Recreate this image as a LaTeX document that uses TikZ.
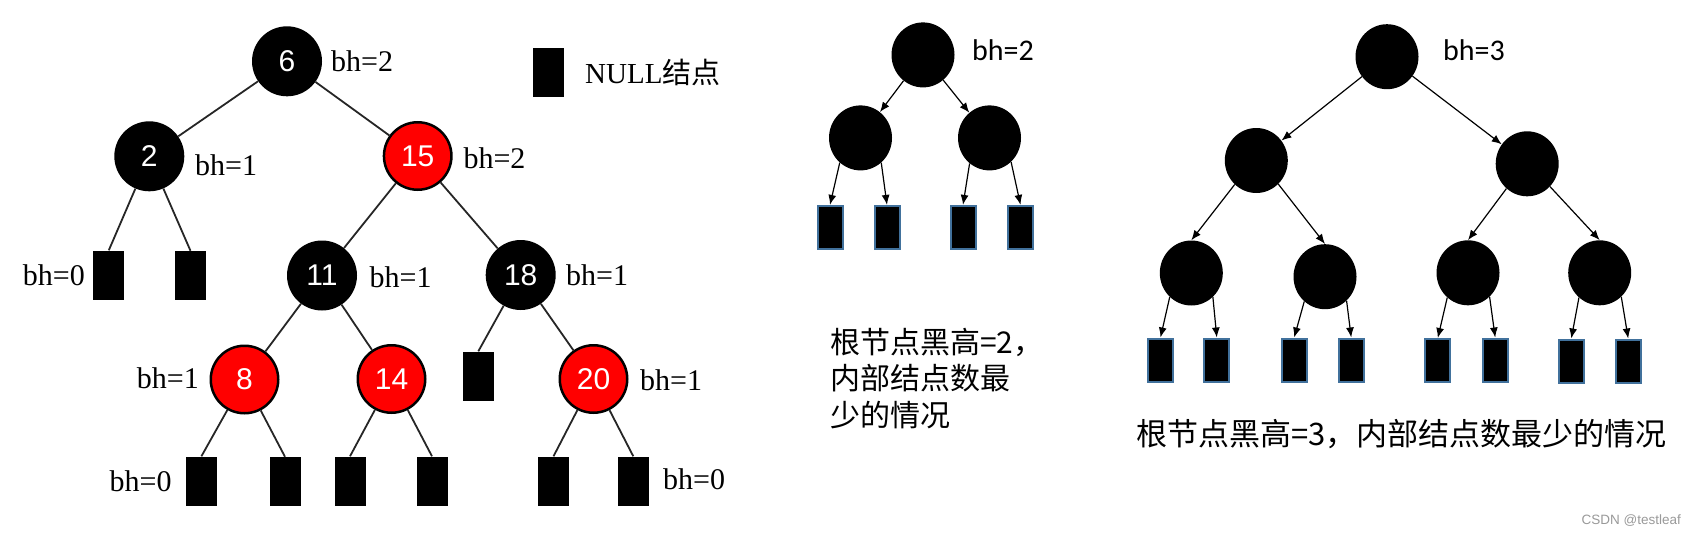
\documentclass[tikz,border=0pt]{standalone}
\usepackage{fontspec}
\setmainfont{Liberation Serif}
\newfontfamily\arialfont{Liberation Sans}
\newfontfamily\calfont{Carlito}
\newfontfamily\cjk{Noto Sans CJK SC}
\usetikzlibrary{arrows.meta,shapes.geometric}
\definecolor{nilblue}{RGB}{65,113,156}

\begin{document}
\begin{tikzpicture}[x=1pt,y=-1pt,
	bnode/.style={circle,fill=black,minimum size=70,inner sep=0,text=white,font=\arialfont\fontsize{30}{30}\selectfont},
	rnode/.style={bnode,fill=red,draw=black,line width=2.5,minimum size=67.5},
	nullbox/.style={rectangle,fill=black,minimum width=31,minimum height=49,inner sep=0},
	bhl/.style={inner sep=0,font=\fontsize{30}{30}\selectfont},
	tline/.style={black!85,line width=1.8},
	knode/.style={ellipse,fill=black,minimum width=63,minimum height=65,inner sep=0},
	nullb/.style={rectangle,fill=black,draw=nilblue,line width=2,minimum width=25,minimum height=43,inner sep=0},
	arr/.style={-{Latex[length=10pt,width=8pt]},line width=1.2},
	bhc/.style={inner sep=0,anchor=base west,font=\calfont\fontsize{30}{30}\selectfont},
	capt/.style={inner sep=0,anchor=base west}]
			\useasboundingbox (0,0) rectangle (1694,535);
			% red-black tree with NULL leaves
			\node (n6) at (287,61.3) [bnode] {6};
			\node (n2) at (149.3,156.3) [bnode] {2};
			\node (n15) at (417.7,156) [rnode] {15};
			\node (n11) at (322,275.5) [bnode] {11};
			\node (n18) at (520.7,275) [bnode] {18};
			\node (n8) at (244.5,379.5) [rnode] {8};
			\node (n14) at (391.5,379) [rnode] {14};
			\node (n20) at (593.5,379) [rnode] {20};
			\node (l2a) at (108.8,275) [nullbox] {};
			\node (l2b) at (190.5,275.5) [nullbox] {};
			\node (l18a) at (478.3,376) [nullbox] {};
			\node (l8a) at (201.4,481) [nullbox] {};
			\node (l8b) at (285,481.5) [nullbox] {};
			\node (l14a) at (350,481) [nullbox] {};
			\node (l14b) at (432,481) [nullbox] {};
			\node (l20a) at (553.5,481) [nullbox] {};
			\node (l20b) at (633.3,481) [nullbox] {};
			\draw [tline] (n6) -- (n2) (n6) -- (n15);
			\draw [tline] (n2) -- (l2a.north) (n2) -- (l2b.north);
			\draw [tline] (n15) -- (n11) (n15) -- (n18);
			\draw [tline] (n11) -- (n8) (n11) -- (n14);
			\draw [tline] (n18) -- (l18a.north) (n18) -- (n20);
			\draw [tline] (n8) -- (l8a.north) (n8) -- (l8b.north);
			\draw [tline] (n14) -- (l14a.north) (n14) -- (l14b.north);
			\draw [tline] (n20) -- (l20a.north) (n20) -- (l20b.north);
			\node (b6) at (331,71) [bhl,anchor=base west] {bh=2};
			\node (b2) at (195,175) [bhl,anchor=base west] {bh=1};
			\node (b15) at (463.3,168.3) [bhl,anchor=base west] {bh=2};
			\node (b2a) at (85,285) [bhl,anchor=base east] {bh=0};
			\node (b11) at (369.4,287.4) [bhl,anchor=base west] {bh=1};
			\node (b18) at (566,285.7) [bhl,anchor=base west] {bh=1};
			\node (b8) at (199,388.3) [bhl,anchor=base east] {bh=1};
			\node (b20) at (640,390.5) [bhl,anchor=base west] {bh=1};
			\node (b8a) at (171.7,491.7) [bhl,anchor=base east] {bh=0};
			\node (b20b) at (663,489.8) [bhl,anchor=base west] {bh=0};
			% legend
			\node (key) at (548.8,72.8) [nullbox] {};
			\node (keytext) at (585,83.3) [capt,font=\fontsize{29}{29}\selectfont] {NULL{\cjk 结点}};
			% bh=2, fewest inner nodes
			\node (m0) at (923,54.9) [knode] {};
			\node (m1) at (860.5,137.9) [knode] {};
			\node (m2) at (989.5,137.9) [knode] {};
			\node (ma) at (830,227.4) [nullb] {};
			\node (mb) at (887,227.4) [nullb] {};
			\node (mc) at (963,227.4) [nullb] {};
			\node (md) at (1020.5,227.4) [nullb] {};
			\draw [arr] (m0) -- (m1);
			\draw [arr] (m0) -- (m2);
			\draw [arr] (m1.230) -- (ma.north);
			\draw [arr] (m1.310) -- (mb.north);
			\draw [arr] (m2.232) -- (mc.north);
			\draw [arr] (m2.312) -- (md.north);
			\node (mbh) at (972,61) [bhc] {bh=2};
			\node (mc1) at (830,353) [capt,font=\cjk\fontsize{30}{30}\selectfont] {根节点黑高=2，};
			\node (mc2) at (830,389.5) [capt,font=\cjk\fontsize{30}{30}\selectfont] {内部结点数最};
			\node (mc3) at (830,426) [capt,font=\cjk\fontsize{30}{30}\selectfont] {少的情况};
			% bh=3, fewest inner nodes
			\node (r0) at (1387,56.7) [knode] {};
			\node (r1) at (1256.3,160.5) [knode] {};
			\node (r2) at (1527.2,163.8) [knode] {};
			\node (r3) at (1191.3,273) [knode] {};
			\node (r4) at (1325,276.7) [knode] {};
			\node (r5) at (1468,272.8) [knode] {};
			\node (r6) at (1599.7,272.8) [knode] {};
			\node (ra) at (1160.5,360) [nullb] {};
			\node (rb) at (1216.8,360) [nullb] {};
			\node (rc) at (1294.2,360) [nullb] {};
			\node (rd) at (1351.2,360) [nullb] {};
			\node (re) at (1437.8,360.5) [nullb] {};
			\node (rf) at (1495.2,360) [nullb] {};
			\node (rg) at (1571.3,361) [nullb] {};
			\node (rh) at (1628.2,361) [nullb] {};
			\draw [arr] (r0) -- (r1);
			\draw [arr] (r0) -- (r2);
			\draw [arr] (r1.228) -- (r3.north);
			\draw [arr] (r1.313) -- (r4.north);
			\draw [arr] (r2.230) -- (r5.north);
			\draw [arr] (r2.315) -- (r6.north);
			\draw [arr] (r3.228) -- (ra.north);
			\draw [arr] (r3.312) -- (rb.north);
			\draw [arr] (r4.230) -- (rc.north);
			\draw [arr] (r4.312) -- (rd.north);
			\draw [arr] (r5.230) -- (re.north);
			\draw [arr] (r5.312) -- (rf.north);
			\draw [arr] (r6.230) -- (rg.north);
			\draw [arr] (r6.312) -- (rh.north);
			\node (rbh) at (1443,60) [bhc] {bh=3};
			\node (rcap) at (1136,445.7) [capt,font=\cjk\fontsize{31}{31}\selectfont] {根节点黑高=3，内部结点数最少的情况};
			\node (mark) at (1681,524) [capt,anchor=base east,text=black!40,font=\arialfont\fontsize{13.5}{13.5}\selectfont] {CSDN @testleaf};
\end{tikzpicture}
\end{document}
